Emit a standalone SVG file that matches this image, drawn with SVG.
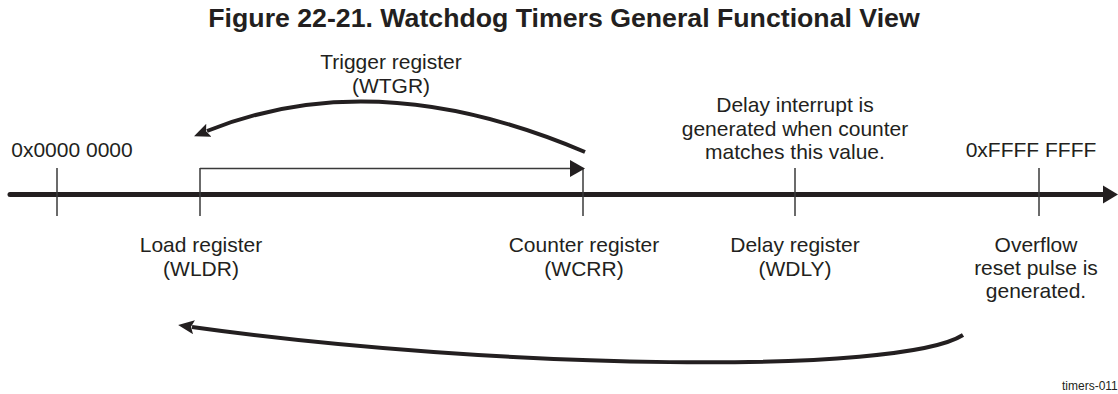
<svg xmlns="http://www.w3.org/2000/svg" width="1118" height="394" viewBox="0 0 1118 394">
<style>
text{font-family:"Liberation Sans",Arial,sans-serif;fill:#231f20}
.t{font-size:21px;text-anchor:middle}
.title{font-size:26.7px;font-weight:bold;text-anchor:middle}
.tick{stroke:#3a3a3a;stroke-width:1.5;fill:none}
.arc{stroke:#231f20;stroke-width:4;fill:none}
</style>
<defs>
<marker id="ah" viewBox="0 0 16 14" refX="2" refY="7" markerWidth="16" markerHeight="14" markerUnits="userSpaceOnUse" orient="auto">
<path d="M0,0 L16,7 L0,14 L3,7 z" fill="#231f20"/>
</marker>
</defs>
<rect width="1118" height="394" fill="#fff"/>
<text class="title" x="564" y="27">Figure 22-21. Watchdog Timers General Functional View</text>
<g id="axis">
<line x1="10" y1="194.5" x2="1105" y2="194.5" stroke="#231f20" stroke-width="5" stroke-linecap="round"/>
<path d="M1103,185.5 L1118,194.5 L1103,203.5 z" fill="#231f20"/>
</g>
<g id="start">
<line class="tick" x1="57" y1="168" x2="57" y2="216"/>
<text class="t" x="72" y="157">0x0000 0000</text>
</g>
<g id="wldr">
<line class="tick" x1="200" y1="168" x2="200" y2="216"/>
<text class="t" x="201" y="252">Load register</text>
<text class="t" x="201" y="276">(WLDR)</text>
</g>
<g id="wcrr">
<line class="tick" x1="583" y1="168" x2="583" y2="216"/>
<text class="t" x="584" y="252">Counter register</text>
<text class="t" x="584" y="276">(WCRR)</text>
</g>
<g id="wdly">
<line class="tick" x1="795" y1="168" x2="795" y2="216"/>
<text class="t" x="795" y="112">Delay interrupt is</text>
<text class="t" x="795" y="135.5">generated when counter</text>
<text class="t" x="795" y="159">matches this value.</text>
<text class="t" x="795" y="252">Delay register</text>
<text class="t" x="795" y="276">(WDLY)</text>
</g>
<g id="end">
<line class="tick" x1="1039" y1="168" x2="1039" y2="216"/>
<text class="t" x="1031" y="157">0xFFFF FFFF</text>
<text class="t" x="1036" y="252">Overflow</text>
<text class="t" x="1036" y="275">reset pulse is</text>
<text class="t" x="1036" y="298">generated.</text>
</g>
<g id="wtgr">
<text class="t" x="391" y="69">Trigger register</text>
<text class="t" x="391" y="93">(WTGR)</text>
</g>
<g id="connectors">
<path d="M200,168.5 H572" class="tick" stroke-width="1.3"/>
<path d="M570,160 L585,168.5 L570,177 z" fill="#231f20"/>
<path class="arc" d="M585,152 Q376,63 207,131" marker-end="url(#ah)"/>
<path class="arc" d="M963,335 C900,375 500,370 192,327" marker-end="url(#ah)"/>
</g>
<text x="1062" y="390" style="font-size:12px">timers-011</text>
</svg>
